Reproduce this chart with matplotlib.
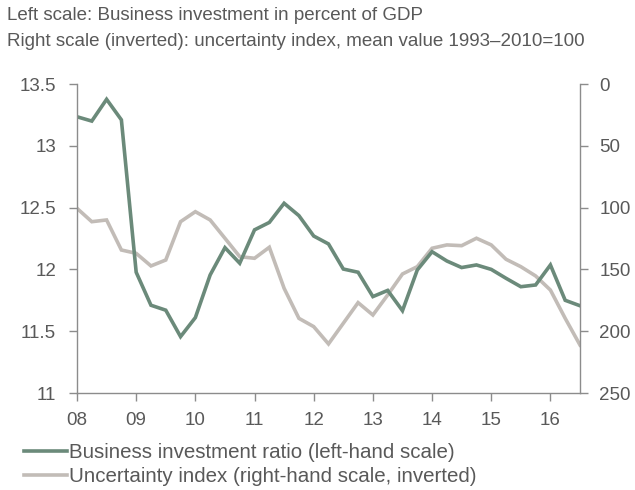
import matplotlib
matplotlib.use("Agg")
import matplotlib.pyplot as plt
import numpy as np

plt.rcParams['font.family'] = ['Liberation Sans', 'DejaVu Sans']

# Quarterly data 2008Q1 .. 2016Q3
quarters = np.arange(35)
years_start = 2008
investment = [13.235, 13.20, 13.376, 13.21, 11.977, 11.71, 11.67, 11.456, 11.61, 11.955,
              12.176, 12.05, 12.32, 12.38, 12.535, 12.435, 12.27, 12.206, 12.003, 11.977,
              11.78, 11.83, 11.666, 11.995, 12.143, 12.068, 12.015, 12.036, 12.0, 11.928,
              11.86, 11.874, 12.036, 11.75, 11.706]
uncertainty = [100.6, 111.4, 110.0, 134.3, 137.0, 147.2, 142.4, 111.4, 103.3, 110.0,
               124.8, 139.7, 141.0, 132.1, 165.3, 189.6, 196.3, 210.3, 193.6, 176.9,
               186.9, 170.7, 153.7, 147.8, 132.9, 130.2, 130.8, 124.8, 130.2, 141.8,
               147.8, 155.3, 166.7, 189.6, 211.2]
xtick_labels = ['08', '09', '10', '11', '12', '13', '14', '15', '16']
left_ticks = [11, 11.5, 12, 12.5, 13, 13.5]
left_labels = ['11', '11.5', '12', '12.5', '13', '13.5']
right_ticks = [0, 50, 100, 150, 200, 250]

title_lines = ["Left scale: Business investment in percent of GDP",
               "Right scale (inverted): uncertainty index, mean value 1993\u20132010=100"]
legend_labels = ["Business investment ratio (left-hand scale)",
                 "Uncertainty index (right-hand scale, inverted)"]

green = '#6b8a7a'
grey = '#c2bcb7'
txt = '#595959'
axcol = '#8c8c8c'

x = years_start + quarters / 4.0

fig = plt.figure(figsize=(6.35, 4.9), dpi=100)
ax = fig.add_axes([77/635, 1 - 393/490, (580-77)/635, (393-84)/490])
ax2 = ax.twinx()

l2, = ax2.plot(x, uncertainty, color=grey, lw=2.6, solid_joinstyle='miter')
l1, = ax.plot(x, investment, color=green, lw=2.6, solid_joinstyle='miter')
ax.set_zorder(ax2.get_zorder() + 1)
ax.patch.set_visible(False)

ax.set_xlim(2008, 2016.5)
ax.set_ylim(11, 13.5)
ax2.set_ylim(250, 0)

ax.set_yticks(left_ticks)
ax.set_yticklabels(left_labels)
ax2.set_yticks(right_ticks)
ax.set_xticks(np.arange(2008, 2017))
ax.set_xticklabels(xtick_labels)

for a in (ax, ax2):
    a.spines['top'].set_visible(False)
    for s in ['left', 'right', 'bottom']:
        a.spines[s].set_color(axcol)
        a.spines[s].set_linewidth(1.0)
    a.tick_params(colors=axcol, labelcolor=txt, labelsize=13.5, length=6, width=1.0, pad=8)
ax.tick_params(axis='y', pad=9)
ax.spines['right'].set_visible(False)
ax2.spines['left'].set_visible(False)
ax2.spines['bottom'].set_visible(False)

fig.text(7/635, 1 - 16/490, title_lines[0], fontsize=13.5, color=txt, va='center', ha='left')
fig.text(7/635, 1 - 42/490, title_lines[1], fontsize=13.5, color=txt, va='center', ha='left')

fig.legend([l1, l2], legend_labels, loc='upper left', bbox_to_anchor=(24/635, 1 - 443/490),
           frameon=False, fontsize=14.8, handlelength=2.1, handletextpad=0.1,
           labelspacing=0.25, borderaxespad=0, borderpad=0, labelcolor=txt)

fig.savefig('out.png', dpi=100)
